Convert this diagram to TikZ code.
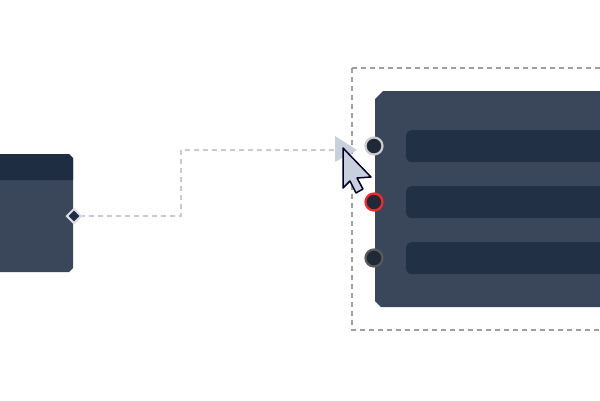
\documentclass[tikz,border=0pt]{standalone}
\usetikzlibrary{shapes.geometric}
\begin{document}
\begin{tikzpicture}[x=1pt,y=-1pt,
  row/.style={fill=rowc,rounded corners=5pt},
  port/.style={circle,minimum size=17pt,inner sep=0pt,fill=portc,line width=2.2pt},
  conn/.style={draw=connc,line width=1.5pt,dash pattern=on 5pt off 4pt}]
\definecolor{nodebody}{HTML}{3A475A}
\definecolor{headc}{HTML}{1F2D42}
\definecolor{rowc}{HTML}{223045}
\definecolor{portc}{HTML}{1F2937}
\definecolor{connc}{HTML}{C5CAD6}
\definecolor{curc}{HTML}{C8D0DE}
\useasboundingbox (0,0) rectangle (600,400);
\clip (0,0) rectangle (600,400);
% left node
\fill[nodebody] (-10,154) -- (69,154) -- (73,158) -- (73,268) -- (69,272) -- (-10,272) -- cycle;
\fill[headc] (-10,154) -- (69,154) -- (73,158) -- (73,180) -- (-10,180) -- cycle;
\draw[conn] (80,216) -- (181,216) -- (181,150) -- (340,150);
\node[diamond,minimum size=15pt,inner sep=0pt,fill=headc,draw=connc!60!white,line width=2pt] (d) at (74,216) {};
% selection
\draw[gray!75,line width=1.3pt,dash pattern=on 5pt off 4pt] (352,68) -- (610,68) (352,68) -- (352,330) -- (610,330);
% right node
\fill[nodebody] (383,91) -- (610,91) -- (610,307) -- (381,307) -- (375,301) -- (375,99) -- cycle;
\node[row,minimum width=220pt,minimum height=32pt,anchor=north west] (r1) at (406,130) {};
\node[row,minimum width=220pt,minimum height=32pt,anchor=north west] (r2) at (406,186) {};
\node[row,minimum width=220pt,minimum height=32pt,anchor=north west] (r3) at (406,242) {};
\node[port,draw=gray!40] (p1) at (374,146) {};
\node[port,draw=red!85!white] (p2) at (374,202) {};
\node[port,draw=gray!70!black] (p3) at (374,258) {};
\fill[curc] (335,136) -- (357,150) -- (335,162) -- cycle;
% cursor
\draw[fill=curc,draw=black!85!blue,line width=1.5pt,line join=round] (343,148) -- (343,188) -- (350,181) -- (356,193) -- (363,189) -- (357,178) -- (371,177) -- cycle;
\end{tikzpicture}
\end{document}
